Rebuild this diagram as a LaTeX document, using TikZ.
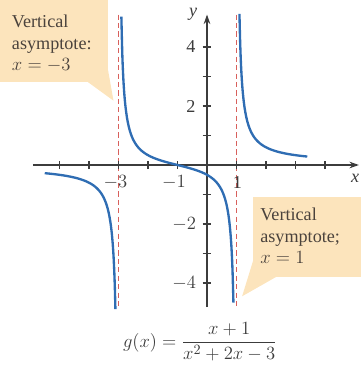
\documentclass[tikz,border=0pt]{standalone}
\usepackage{fontspec}
\setmainfont{Liberation Serif}
\usepackage{tikz}
\usetikzlibrary{arrows.meta}
\definecolor{grblue}{HTML}{2F6DB3}
\definecolor{grred}{HTML}{D8605C}
\definecolor{graxis}{HTML}{3C3C3C}
\definecolor{grnote}{HTML}{FCE4BC}
\definecolor{grtext}{HTML}{4A423C}
\tikzset{
  axisline/.style={draw=graxis,line width=0.9pt,-{Stealth[length=2.6mm,width=1.8mm]}},
  tickmark/.style={draw=graxis,line width=0.8pt},
  asymline/.style={draw=grred,line width=1pt,dash pattern=on 4pt off 2.5pt},
  branch/.style={draw=grblue,line width=1.8pt,smooth,samples=120},
  notebox/.style={fill=grnote},
  notetext/.style={inner sep=0pt,align=left,text=grtext,font=\fontsize{14}{16.5}\selectfont},
  ticklabel/.style={inner sep=0pt,text=graxis,font=\fontsize{14}{16}\selectfont}
}

\begin{document}
\begin{tikzpicture}[x=0.8cm,y=0.8cm]
    \useasboundingbox (-7.017,-6.915) rectangle (5.22,5.593);
    % callout boxes
    \fill[notebox] (-7.017,5.593) rectangle (-3.36,2.81);
    \fill[notebox] (-4.05,2.82) -- (-3.36,3.25) -- (-3.17,2.18) -- cycle;
    \node[notetext,anchor=north west] (leftnote) at (-6.62,5.09) {Vertical\\asymptote:\\$x=-3$};
    \fill[notebox] (1.56,-1.09) rectangle (5.22,-3.8);
    \fill[notebox] (1.56,-3.25) -- (2.35,-3.79) -- (1.19,-4.45) -- cycle;
    \node[notetext,anchor=north west] (rightnote) at (1.8,-1.46) {Vertical\\asymptote;\\$x=1$};
    % asymptotes
    \draw[asymline] (-3,5.1) -- (-3,-4.85);
    \draw[asymline] (1,5.1) -- (1,-4.85);
    % axes
    \draw[axisline] (-5.9,0) -- (5.15,0);
    \draw[axisline] (0,-4.82) -- (0,5.1);
    \foreach \t in {-5,-4,-3,-2,-1,1,2,3,4}
      \draw[tickmark] (\t,-0.14) -- (\t,0.14);
    \foreach \t in {-4,-3,-2,-1,1,2,3,4}
      \draw[tickmark] (-0.15,\t) -- (0.15,\t);
    \node[ticklabel,font=\fontsize{14}{16}\itshape] (xlab) at (5.02,-0.44) {x};
    \node[ticklabel,font=\fontsize{14}{16}\itshape] (ylab) at (-0.47,5.12) {y};
    \node[ticklabel] (xm3) at (-3.1,-0.6) {$-3$};
    \node[ticklabel] (xm1) at (-1.12,-0.6) {$-1$};
    \node[ticklabel] (xp1) at (1.03,-0.6) {1};
    \node[ticklabel,anchor=east] (y4) at (-0.38,4) {4};
    \node[ticklabel,anchor=east] (y2) at (-0.38,2) {2};
    \node[ticklabel,anchor=east] (ym2) at (-0.36,-2) {$-2$};
    \node[ticklabel,anchor=east] (ym4) at (-0.36,-4) {$-4$};
    % branches of g
    \draw[branch,domain=-5.5:-3.104] plot (\x,{(\x+1)/((\x+3)*(\x-1))});
    \draw[branch,domain=-2.903:0.896] plot (\x,{(\x+1)/((\x+3)*(\x-1))});
    \draw[branch,domain=1.1:3.4] plot (\x,{(\x+1)/((\x+3)*(\x-1))});
    % formula
    \node[ticklabel,font=\fontsize{15}{17}\selectfont] (formula) at (-0.24,-6.0) {$\displaystyle g(x)=\frac{x+1}{x^2+2x-3}$};
  \end{tikzpicture}
\end{document}
